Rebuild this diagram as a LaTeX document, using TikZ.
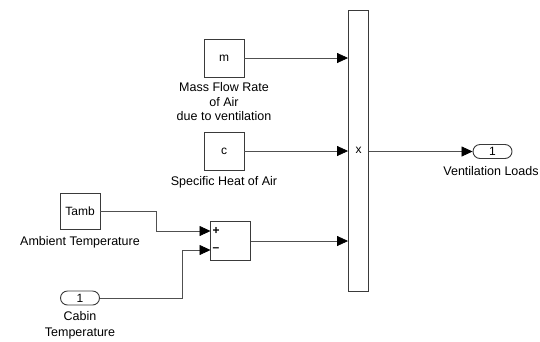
\documentclass[tikz,border=0pt]{standalone}
\usepackage{fontspec}
\setmainfont{Liberation Sans}
\usetikzlibrary{arrows.meta,positioning}
\definecolor{wiregray}{HTML}{505050}
\definecolor{blockedge}{HTML}{3A3A3A}

\begin{document}
\begin{tikzpicture}[x=1pt,y=-1pt,
    blk/.style={draw=blockedge,line width=0.9pt,fill=white,minimum width=40,minimum height=38,inner sep=0pt,font=\fontsize{12}{14}\selectfont},
    port/.style={draw=blockedge,line width=0.9pt,rounded corners=7pt,minimum width=39,minimum height=14,inner sep=0pt,font=\fontsize{12}{14}\selectfont},
    lbl/.style={align=center,inner sep=0pt,font=\fontsize{12.5}{14.5}\selectfont},
    sgn/.style={font=\fontsize{12}{14}\selectfont\bfseries,right=1pt,inner sep=1pt},
    wire/.style={draw=wiregray,line width=0.7pt,-{Triangle[length=11pt,width=10pt,black]}}]
    \useasboundingbox (0,0) rectangle (540,341);
    % source blocks
    \node[blk] (mdot) at (224,58) {m};
    \node[lbl] (mdotlbl) at (224,102) {Mass Flow Rate\\of Air\\due to ventilation};
    \node[blk] (cp) at (224,151) {c};
    \node[lbl] (cplbl) at (224,182) {Specific Heat of Air};
    \node[blk,minimum height=36] (tamb) at (80,211) {Tamb};
    \node[lbl] (tamblbl) at (80,242) {Ambient Temperature};
    \node[port] (cabin) at (80,298) {1};
    \node[lbl,font=\fontsize{12.5}{16}\selectfont] (cabinlbl) at (80,325) {Cabin\\Temperature};
    % sum and product
    \node[blk,minimum height=39] (sum) at (230.5,241) {};
    \coordinate (sumplus) at (210.5,231);
    \coordinate (summinus) at (210.5,250);
    \node[sgn] at (sumplus) {+};
    \node[sgn] at (summinus) {\textendash};
    \node[blk,minimum width=20,minimum height=281] (prod) at (358.5,150.5) {x};
    % output
    \node[port] (vload) at (492.5,151.5) {1};
    \node[lbl] (vloadlbl) at (491,171) {Ventilation Loads};
    % wires
    \draw[wire] (mdot.east) -- (mdot.east -| prod.west);
    \draw[wire] (cp.east) -- (cp.east -| prod.west);
    \draw[wire] (sum.east) -- (sum.east -| prod.west);
    \draw[wire] (tamb.east) -- ++(56,0) |- (sumplus);
    \draw[wire] (cabin.east) -- ++(82,0) |- (summinus);
    \draw[wire] (prod.east |- vload.west) -- (vload.west);
  \end{tikzpicture}
\end{document}
